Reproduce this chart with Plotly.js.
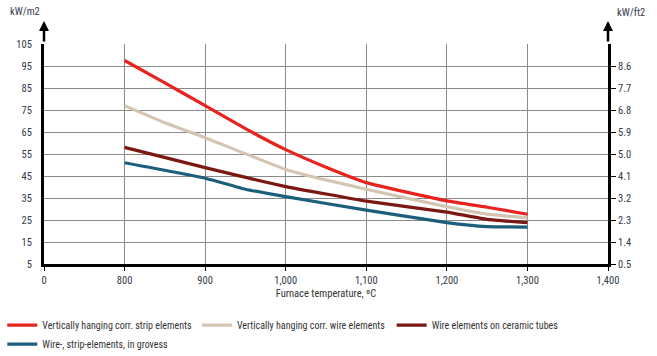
<!DOCTYPE html>
<html><head><meta charset="utf-8">
<script src="https://cdn.plot.ly/plotly-3.0.1.min.js"></script>
<style>html,body{margin:0;padding:0;background:#fff}#chart{width:657px;height:356px}</style>
</head><body><div id="chart"></div>
<script>
// Temperatures (ºC) at which curves were read
const tempStrip = [800, 850, 900, 950, 1000, 1050, 1100, 1200, 1250, 1300];
const stripElements = [97.5, 87.3, 77, 66.5, 57, 49, 42, 33.7, 30.8, 27.6];
const tempWire = [800, 850, 900, 1000, 1050, 1100, 1200, 1250, 1300];
const wireElements = [77, 69.2, 62.4, 48, 43.2, 39, 31, 27.7, 26];
const tempTubes = [800, 900, 1000, 1100, 1200, 1250, 1300];
const ceramicTubes = [58, 48.8, 40.2, 33.6, 28.6, 25.3, 23.8];
const tempGroves = [800, 900, 950, 1000, 1100, 1200, 1250, 1300];
const groves = [51, 44, 39, 35.6, 29.5, 23.8, 22, 21.8];

const seriesNames = ['Vertically hanging corr. strip elements', 'Vertically hanging corr. wire elements', 'Wire elements on ceramic tubes', 'Wire-, strip-elements, in grovess'];
const seriesColors = ['#e8231e', '#d4c5b3', '#7b1812', '#1b5f7c'];

const xTickVals = [700, 800, 900, 1000, 1100, 1200, 1300, 1400];
const xTickText = ['0', '800', '900', '1,000', '1,100', '1,200', '1,300', '1,400'];
const yTickVals = [5, 15, 25, 35, 45, 55, 65, 75, 85, 95, 105];
const y2TickVals = [0.5, 1.4, 2.3, 3.2, 4.1, 5.0, 5.9, 6.8, 7.7, 8.6];
const y2TickText = ['0.5', '1.4', '2.3', '3.2', '4.1', '5.0', '5.9', '6.8', '7.7', '8.6'];

const FONT = '"Roboto Condensed", Roboto, sans-serif';
const xs = [tempStrip, tempWire, tempTubes, tempGroves];
const ys = [stripElements, wireElements, ceramicTubes, groves];
const traces = ys.map((y, i) => ({
  x: xs[i], y: y, type: 'scatter', mode: 'lines', name: seriesNames[i],
  line: {color: seriesColors[i], width: 3.2, shape: 'spline', smoothing: 0.4}
}));
traces.push({x: [700, 1400], y: [0.5, 9.5], yaxis: 'y2', mode: 'none', showlegend: false, hoverinfo: 'skip', type: 'scatter'});

const layout = {
  width: 657, height: 356,
  margin: {l: 44, r: 49, t: 44, b: 92, autoexpand: false},
  paper_bgcolor: '#fff', plot_bgcolor: '#fff',
  font: {family: FONT, size: 10.5, color: '#333a48'},
  showlegend: true,
  legend: {orientation: 'h', x: -0.074, y: -0.212, xanchor: 'left', yanchor: 'top',
           font: {family: FONT, size: 10, color: '#333'}, traceorder: 'normal', itemwidth: 30, tracegroupgap: 0},
  xaxis: {range: [700, 1400], tickmode: 'array', tickvals: xTickVals, ticktext: xTickText,
          showgrid: true, gridcolor: '#8a8a8a', gridwidth: 1, zeroline: false,
          showline: true, linecolor: '#000', linewidth: 3, ticks: 'outside', ticklen: 4, tickcolor: '#000',
          title: {text: 'Furnace temperature, ºC', font: {family: FONT, size: 10.5, color: '#333'}, standoff: 4}},
  yaxis: {range: [5, 105], tickmode: 'array', tickvals: yTickVals, showgrid: true, gridcolor: '#8a8a8a', gridwidth: 1,
          zeroline: false, showline: true, linecolor: '#000', linewidth: 3, ticks: 'outside', ticklen: 7, tickcolor: 'rgba(0,0,0,0)'},
  yaxis2: {range: [0.5, 9.5], overlaying: 'y', side: 'right', tickmode: 'array', tickvals: y2TickVals, ticktext: y2TickText,
           showgrid: false, zeroline: false, showline: true, linecolor: '#000', linewidth: 3,
           ticks: 'outside', ticklen: 5, tickcolor: '#000'},
  annotations: [
    {xref: 'paper', yref: 'paper', x: 0, y: 1.105, ax: 0, ay: 22, axref: 'pixel', ayref: 'pixel', text: '', showarrow: true, arrowhead: 2, arrowsize: 0.8, arrowwidth: 2.5, arrowcolor: '#000'},
    {xref: 'paper', yref: 'paper', x: 1, y: 1.105, ax: 0, ay: 22, axref: 'pixel', ayref: 'pixel', text: '', showarrow: true, arrowhead: 2, arrowsize: 0.8, arrowwidth: 2.5, arrowcolor: '#000'},
    {xref: 'paper', yref: 'paper', x: -0.034, y: 1.15, xanchor: 'center', yanchor: 'middle', text: 'kW/m2', showarrow: false, font: {family: FONT, size: 10.5, color: '#333a48'}},
    {xref: 'paper', yref: 'paper', x: 1.04, y: 1.145, xanchor: 'center', yanchor: 'middle', text: 'kW/ft2', showarrow: false, font: {family: FONT, size: 10.5, color: '#333a48'}}
  ]
};
Plotly.newPlot('chart', traces, layout, {displayModeBar: false, staticPlot: true});
</script></body></html>
